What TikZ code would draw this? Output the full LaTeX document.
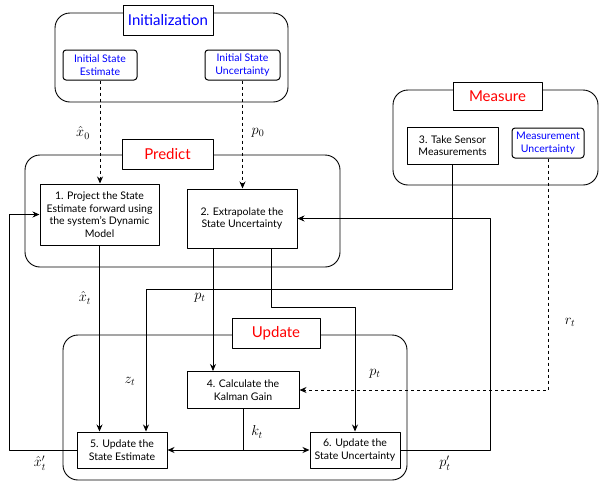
\documentclass[tikz,border=0pt]{standalone}
\usepackage{fontspec}
\setmainfont{Lato}
\usetikzlibrary{arrows.meta}
\begin{document}
\begin{tikzpicture}[x=1pt,y=-1pt,line join=round,>={Stealth[length=7pt,width=6pt]}]
	\tikzset{stepbox/.style={draw,fill=white,line width=1pt,align=center,inner sep=1pt,font=\fontsize{10.5}{12.5}\selectfont},
		inputbox/.style={stepbox,rounded corners=3pt,text=blue},
		phase/.style={draw,rounded corners=15pt,line width=0.9pt},
		phasetitle/.style={draw,fill=white,line width=1pt,minimum height=30pt,font=\fontsize{15}{17}\selectfont},
		flow/.style={->,line width=0.9pt},
		lbl/.style={font=\fontsize{14}{16}\selectfont}}
	\useasboundingbox (0,0) rectangle (601,485);
	\draw[phase] (55,13) rectangle (288,102);
	\draw[phase] (25,155) rectangle (340,267);
	\draw[phase] (393,90) rectangle (598,185);
	\draw[phase] (63,335) rectangle (407,480);
	\node[phasetitle,text=blue,minimum width=90pt] (tinit) at (168,20) {Initialization};
	\node[phasetitle,text=red,minimum width=91pt] (tpred) at (167.5,154) {Predict};
	\node[phasetitle,text=red,minimum width=89pt,minimum height=28pt] (tmeas) at (497.5,96) {Measure};
	\node[phasetitle,text=red,minimum width=88pt] (tupd) at (276,333) {Update};
	\node[inputbox,minimum width=74pt,minimum height=30pt] (initest) at (100,65) {Initial State\\Estimate};
	\node[inputbox,minimum width=75pt,minimum height=30pt] (initunc) at (242.5,65) {Initial State\\Uncertainty};
	\node[inputbox,minimum width=72pt,minimum height=30pt] (measunc) at (548,143) {Measurement\\Uncertainty};
	\node[stepbox,minimum width=119pt,minimum height=61pt] (step1) at (99.5,214.5) {1. Project the State\\Estimate forward using\\the system's Dynamic\\Model};
	\node[stepbox,minimum width=110pt,minimum height=59pt] (step2) at (242,218.5) {2. Extrapolate the\\State Uncertainty};
	\node[stepbox,minimum width=91pt,minimum height=37pt] (step3) at (452.5,145.5) {3. Take Sensor\\Measurements};
	\node[stepbox,minimum width=112pt,minimum height=37pt] (step4) at (243,390) {4. Calculate the\\Kalman Gain};
	\node[stepbox,minimum width=90pt,minimum height=36pt] (step5) at (122,450) {5. Update the\\State Estimate};
	\node[stepbox,minimum width=90pt,minimum height=36pt] (step6) at (355,450) {6. Update the\\State Uncertainty};
	\draw[flow,dashed] (initest.south) -- (initest.south |- step1.north);
	\draw[flow,dashed] (initunc.south) -- (initunc.south |- step2.north);
	\draw[flow] (step1.south) -- (step1.south |- step5.north);
	\draw[flow] ([xshift=-29pt]step2.south) coordinate (pa) -- (pa |- step4.north);
	\draw[flow] ([xshift=29pt]step2.south) -- ++(0,59) -| (step6.north);
	\coordinate (zbend) at (146,289);
	\draw[flow] (step3.south) |- (zbend) -- (zbend |- step5.north);
	\draw[flow] (step6.east) -- ++(90,0) |- (step2.east);
	\draw[flow] (step5.west) -- ++(-67,0) |- (step1.west);
	\draw[flow,dashed] (measunc.south) |- (step4.east);
	\draw[flow] (step4.south) |- (step5.east);
	\draw[flow] (step4.south) |- (step6.west);
	\node[lbl] (lx0) at (83,133) {$\hat{x}_0$};
	\node[lbl] (lp0) at (258,133) {$p_0$};
	\node[lbl] (lxt) at (85,298) {$\hat{x}_t$};
	\node[lbl] (lpt) at (200,298) {$p_t$};
	\node[lbl] (lzt) at (130,381) {$z_t$};
	\node[lbl] (lpt2) at (375,374) {$p_t$};
	\node[lbl] (lrt) at (570,322) {$r_t$};
	\node[lbl] (lkt) at (257,432) {$k_t$};
	\node[lbl] (lxt2) at (40,463) {$\hat{x}'_t$};
	\node[lbl] (lpt3) at (445,463) {$p'_t$};
\end{tikzpicture}
\end{document}
